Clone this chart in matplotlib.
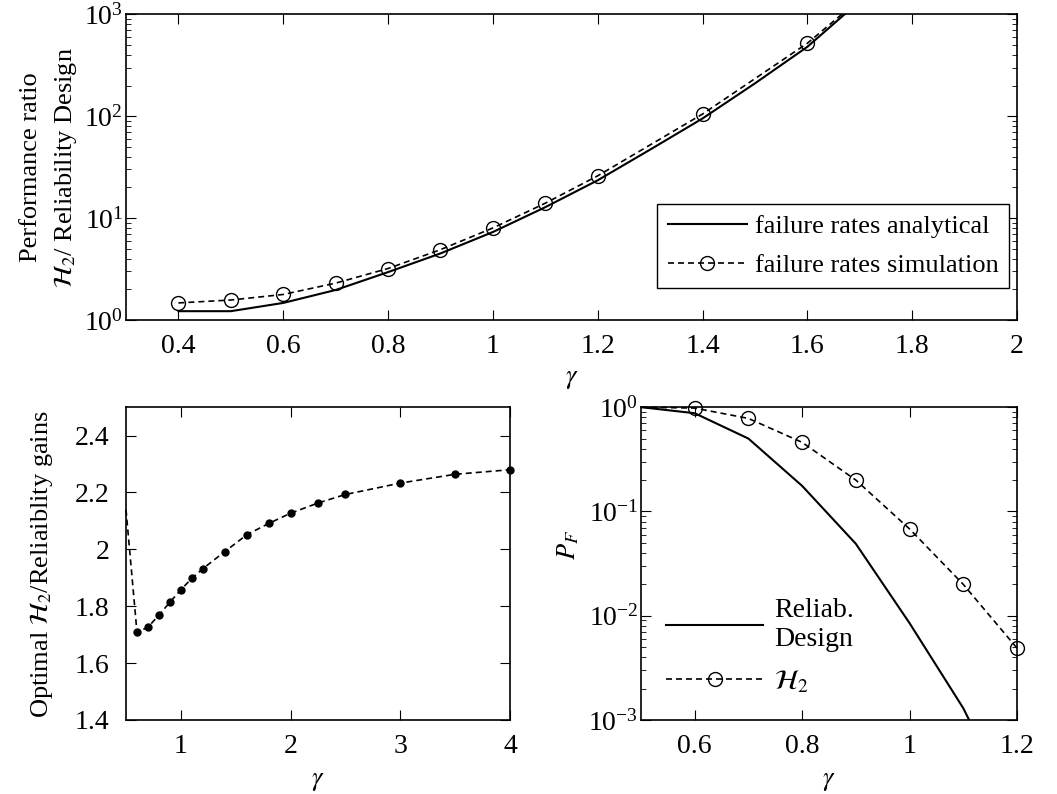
import numpy as np
import matplotlib
matplotlib.use('Agg')
import matplotlib.pyplot as plt

plt.rcParams['font.family'] = ['Liberation Serif', 'DejaVu Serif']
plt.rcParams['mathtext.fontset'] = 'stix'
plt.rcParams['font.size'] = 19
plt.rcParams['axes.linewidth'] = 1.2
plt.rcParams['xtick.direction'] = 'in'
plt.rcParams['ytick.direction'] = 'in'
plt.rcParams['xtick.top'] = True
plt.rcParams['ytick.right'] = True
plt.rcParams['xtick.major.size'] = 7
plt.rcParams['ytick.major.size'] = 7
plt.rcParams['xtick.minor.size'] = 3.5
plt.rcParams['ytick.minor.size'] = 3.5
plt.rcParams['xtick.major.pad'] = 10
plt.rcParams['xtick.labelsize'] = 20
plt.rcParams['ytick.labelsize'] = 20

# performance ratio vs gamma
gamma_an = [0.4, 0.5, 0.6, 0.7, 0.8, 0.9, 1.0, 1.1, 1.2, 1.3, 1.4, 1.5, 1.6, 1.7, 1.8]
ratio_an = [1.22, 1.22, 1.47, 1.97, 2.95, 4.5, 7.3, 12.8, 23.5, 47, 95, 210, 480, 1350, 4000]
gamma_sim = [0.4, 0.5, 0.6, 0.7, 0.8, 0.9, 1.0, 1.1, 1.2, 1.4, 1.6, 1.8]
ratio_sim = [1.47, 1.57, 1.78, 2.3, 3.2, 4.9, 8.0, 14.0, 26.0, 105, 520, 3800]

# optimal gain ratio vs gamma
gamma_gain = [0.5, 0.6, 0.7, 0.8, 0.9, 1.0, 1.1, 1.2, 1.4, 1.6, 1.8, 2.0, 2.25, 2.5, 3.0, 3.5, 4.0]
gain = [2.14, 1.709, 1.726, 1.769, 1.814, 1.858, 1.898, 1.932, 1.992, 2.051, 2.091,
        2.127, 2.163, 2.193, 2.233, 2.264, 2.280]

# failure probability vs gamma
gamma_pf = [0.5, 0.6, 0.7, 0.8, 0.9, 1.0, 1.1, 1.2]
pf_rel = [1.0, 0.875, 0.50, 0.176, 0.049, 0.0085, 0.0013, 0.00012]
pf_h2 = [1.0, 0.98, 0.78, 0.46, 0.20, 0.068, 0.020, 0.0049]

dash = (3.6, 2.4)

fig = plt.figure(figsize=(10.57, 7.94), dpi=100)

ax1 = fig.add_axes([0.1192, 0.597, 0.843, 0.385])
ax1.semilogy(gamma_an, ratio_an, 'k-', lw=1.5, label='failure rates analytical')
ax1.semilogy(gamma_sim, ratio_sim, 'k--', lw=1.2, dashes=dash, marker='o', ms=10,
             mfc='none', mew=1.0, label='failure rates simulation')
ax1.set_xlim(0.3, 2)
ax1.set_ylim(1, 1000)
ax1.set_xticks([0.4, 0.6, 0.8, 1, 1.2, 1.4, 1.6, 1.8, 2])
ax1.set_xticklabels(['0.4', '0.6', '0.8', '1', '1.2', '1.4', '1.6', '1.8', '2'])
ax1.tick_params(axis='y', which='major', pad=2)
ax1.set_xlabel(r'$\gamma$', labelpad=7)
ax1.set_ylabel('Performance ratio\n' + r'$\mathcal{H}_2$/ Reliability Design',
               linespacing=1.5, labelpad=4)
leg = ax1.legend(loc='lower right', bbox_to_anchor=(0.991, 0.105), borderaxespad=0,
                 fancybox=False, edgecolor='k', framealpha=1, handlelength=3.0,
                 handletextpad=0.3, labelspacing=0.6, borderpad=0.4, fontsize=19)
leg.get_frame().set_linewidth(1.0)

ax2 = fig.add_axes([0.1192, 0.0932, 0.3633, 0.394])
ax2.plot(gamma_gain, gain, 'k--', lw=1.2, dashes=dash, marker='o', ms=5, mfc='k',
         markevery=list(range(1, len(gain))), clip_on=False)
ax2.set_xlim(0.5, 4)
ax2.set_ylim(1.4, 2.5)
ax2.set_xticks([1, 2, 3, 4])
ax2.set_yticks([1.4, 1.6, 1.8, 2.0, 2.2, 2.4])
ax2.set_yticklabels(['1.4', '1.6', '1.8', '2', '2.2', '2.4'])
ax2.tick_params(axis='y', which='major', pad=12)
ax2.set_xlabel(r'$\gamma$', labelpad=9)
ax2.set_ylabel(r'Optimal $\mathcal{H}_2$/Reliaiblity gains', labelpad=14)

ax3 = fig.add_axes([0.6064, 0.0932, 0.3557, 0.394])
ax3.semilogy(gamma_pf, pf_rel, 'k-', lw=1.5, label='Reliab.\nDesign')
ax3.semilogy(gamma_pf, pf_h2, 'k--', lw=1.2, dashes=dash, marker='o', ms=10, mfc='none',
             mew=1.0, markevery=list(range(1, len(pf_h2))), clip_on=False,
             label=r'$\mathcal{H}_2$')
ax3.set_xlim(0.5, 1.2)
ax3.set_ylim(1e-3, 1)
ax3.set_xticks([0.6, 0.8, 1, 1.2])
ax3.set_xticklabels(['0.6', '0.8', '1', '1.2'])
ax3.tick_params(axis='y', which='major', pad=2)
ax3.set_xlabel(r'$\gamma$', labelpad=9)
ax3.set_ylabel(r'$P_F$', labelpad=4)
ax3.yaxis.set_label_coords(-0.16, 0.56)
ax3.legend(loc='lower left', bbox_to_anchor=(0.0, 0.0), frameon=False,
           handlelength=3.5, handletextpad=0.4, labelspacing=0.6, fontsize=20)

fig.savefig('out.png', dpi=100)
